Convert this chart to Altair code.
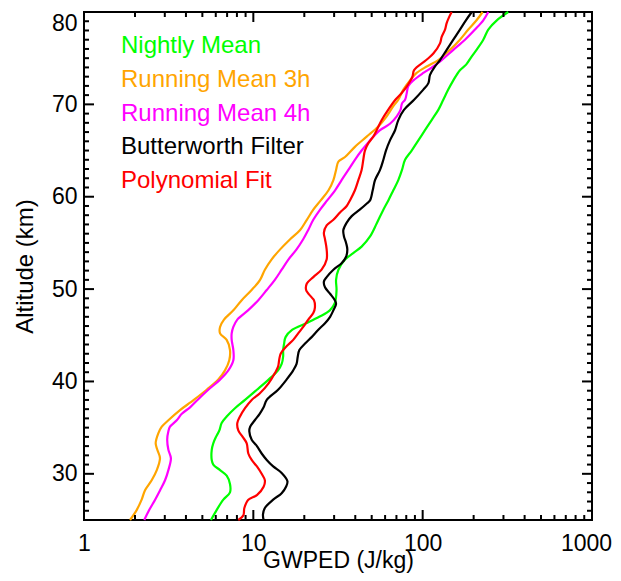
import altair as alt
import pandas as pd

# ---------------- data ----------------
series_names = ["Nightly Mean", "Running Mean 3h", "Running Mean 4h",
                "Butterworth Filter", "Polynomial Fit"]
series_colors = ["#00ff00", "#ffa500", "#ff00ff", "#000000", "#ff0000"]

nightly_alt = [25, 26.1, 27.2, 28.0, 28.9, 29.8, 30.4, 31.0, 31.5, 32.6, 33.3, 34.0, 34.7,
               35.5, 36.2, 37.1, 38.0, 39.1, 40.2, 41.2, 41.9, 42.7, 43.4, 44.1, 44.8,
               45.6, 46.3, 47.0, 47.7, 48.5, 49.9, 51.0, 52.1, 53.2, 53.9, 54.6, 55.7,
               57.1, 58.6, 59.6, 60.7, 61.8, 62.9, 64.0, 65.0, 66.1, 67.2, 68.3, 69.4,
               70.5, 71.6, 72.6, 73.7, 74.3, 75.2, 75.9, 77.0, 78.1, 79.1, 80]
nightly_val = [5.62, 6.08, 6.65, 7.28, 7.28, 6.96, 6.36, 5.80, 5.68, 5.68, 5.80, 6.02, 6.30,
               6.50, 6.96, 7.79, 8.93, 10.5, 12.3, 14.0, 14.7, 15.0, 15.0, 15.2, 15.5,
               17.0, 20.5, 24.5, 28.3, 30.3, 31.0, 30.8, 31.8, 34.8, 38.9, 43.6, 48.9,
               53.5, 58.6, 62.7, 67.1, 71.8, 75.5, 78.7, 86.1, 94.3, 103.2, 113, 123.7,
               132.4, 141.6, 151.7, 166, 180.6, 195, 208, 228, 244, 274, 320]

rm3_alt = [25, 26.1, 27.2, 28.2, 29.3, 30.4, 31.7, 32.6, 33.3, 34.4, 35.1, 35.8, 36.9, 37.7,
           38.0, 39.1, 40.2, 41.2, 42.3, 43.4, 44.5, 45.2, 45.9, 46.7, 47.7, 48.8, 49.9,
           51.0, 52.1, 53.2, 54.3, 55.4, 56.4, 57.5, 58.6, 59.6, 60.7, 61.8, 62.9, 63.8,
           64.3, 65.4, 66.5, 67.6, 68.7, 69.8, 70.5, 71.6, 72.6, 73.4, 74.1, 74.8, 75.9,
           77.0, 78.1, 79.1, 80]
rm3_val = [1.87, 2.05, 2.19, 2.29, 2.51, 2.69, 2.81, 2.71, 2.65, 2.75, 2.88, 3.15, 3.69, 4.23,
           4.45, 5.30, 6.21, 6.80, 7.21, 7.28, 6.96, 6.36, 6.36, 6.71, 7.62, 8.54, 9.77,
           10.96, 11.7, 12.8, 14.4, 16.5, 18.9, 20.7, 22.6, 25.0, 27.8, 29.7, 30.8, 31.8,
           34.8, 39.8, 46.7, 54.7, 61.3, 67.1, 71.8, 76.9, 84.2, 92.1, 105.6, 123.7, 144.9,
           166, 186, 208, 226]

rm4_alt = [25, 26.1, 27.2, 28.2, 29.3, 30.4, 31.7, 32.6, 33.7, 34.6, 35.1, 35.8, 36.5, 37.2,
           38.0, 39.1, 40.2, 41.2, 42.3, 43.4, 44.5, 45.2, 45.9, 46.7, 47.7, 48.8, 49.9,
           51.0, 52.1, 53.2, 54.3, 55.4, 56.4, 57.5, 58.6, 59.6, 60.7, 61.8, 62.9, 64.0,
           65.0, 66.1, 67.2, 67.9, 68.7, 69.4, 70.1, 70.5, 71.2, 72.0, 72.6, 73.4, 74.1,
           74.8, 75.9, 77.0, 78.1, 79.1, 80]
rm4_val = [2.27, 2.43, 2.63, 2.81, 3.01, 3.15, 3.26, 3.15, 3.10, 3.15, 3.22, 3.53, 3.78, 4.23,
           4.68, 5.42, 6.36, 7.12, 7.62, 7.62, 7.45, 7.45, 7.62, 8.04, 9.3, 10.7, 12.0,
           13.4, 14.7, 16.1, 18.0, 19.7, 21.1, 22.6, 24.8, 27.3, 30.4, 33.2, 36.4, 39.8,
           43.6, 48.9, 56.0, 64.1, 70.3, 74.0, 75.5, 78.7, 80.5, 82.3, 88.1, 100.9, 115.6,
           129.5, 151.7, 177.8, 203.7, 228, 244]

bw_alt = [25, 25.6, 26.3, 27.2, 27.9, 28.6, 29.2, 30.1, 30.8, 31.5, 32.2, 33.0, 33.7, 34.6,
          35.1, 35.8, 36.5, 37.2, 38.0, 39.1, 40.2, 41.2, 41.9, 42.7, 43.4, 44.1, 44.8,
          45.6, 46.3, 47.0, 47.7, 48.4, 48.8, 49.5, 50.2, 50.8, 51.3, 52.1, 52.8, 53.5,
          54.3, 55.0, 55.7, 56.4, 57.2, 57.9, 58.6, 59.3, 59.6, 60.7, 61.8, 62.9, 64.0,
          65.0, 66.1, 67.2, 68.3, 69.4, 70.5, 71.6, 72.3, 73.2, 74.1, 74.8, 75.9, 77.0,
          78.1, 79.1, 80]
bw_val = [11.5, 11.4, 11.7, 13.1, 14.7, 15.6, 15.9, 14.7, 13.1, 12.0, 11.2, 10.5, 9.78, 9.47,
          9.58, 10.2, 10.9, 11.5, 12.0, 14.0, 15.7, 17.2, 18.0, 18.3, 18.7, 20.2, 22.1,
          24.2, 26.5, 28.4, 29.7, 30.8, 30.3, 28.4, 26.5, 26.1, 27.1, 29.7, 33.2, 35.3,
          35.9, 35.3, 34.3, 34.0, 35.6, 38.1, 42.5, 47.0, 48.9, 50.7, 52.3, 56.0, 58.6,
          60.7, 64.1, 68.7, 71.8, 77.5, 89.0, 100.9, 108.1, 110.5, 118.3, 126.6, 138.6, 151.7,
          166, 180, 195]

poly_alt = [25, 25.5, 26.3, 27.2, 27.7, 28.6, 29.3, 30.0, 30.8, 31.5, 32.2, 33.3, 34.0, 34.7,
            35.5, 36.2, 37.1, 38.0, 38.7, 39.8, 40.9, 41.6, 42.3, 43.0, 43.8, 44.5, 45.2,
            45.9, 46.7, 47.4, 48.0, 48.8, 49.1, 49.9, 50.6, 51.3, 52.1, 53.2, 54.3, 55.4,
            56.1, 56.9, 57.5, 58.3, 59.0, 59.6, 60.7, 61.8, 62.9, 64.0, 65.0, 65.8, 66.5,
            67.2, 68.3, 69.4, 70.5, 71.2, 72.0, 73.0, 73.7, 74.8, 75.5, 76.6, 77.3, 78.1,
            78.8, 79.5, 80]
poly_val = [8.15, 8.73, 8.85, 9.34, 10.5, 11.5, 11.7, 11.2, 10.5, 9.78, 9.34, 9.14, 8.65, 8.15,
            8.04, 8.34, 8.93, 9.78, 10.9, 12.3, 13.4, 14.0, 14.2, 14.5, 15.7, 17.2, 18.4,
            19.7, 21.1, 22.6, 23.1, 22.8, 22.1, 20.5, 20.7, 22.6, 25.3, 27.1, 27.1, 26.5,
            26.1, 27.1, 29.7, 32.5, 35.6, 37.2, 39.8, 41.7, 43.6, 44.6, 45.6, 47.8, 51.1,
            53.5, 57.3, 62.5, 69.0, 75.0, 81.0, 87.0, 89.0, 105.0, 115.6, 126.6, 129.5, 135.5,
            138.6, 143.7, 148.4]

series_alts = [nightly_alt, rm3_alt, rm4_alt, bw_alt, poly_alt]
series_vals = [nightly_val, rm3_val, rm4_val, bw_val, poly_val]

x_major_ticks = [1, 10, 100, 1000]
x_minor_ticks = [2, 3, 4, 5, 6, 7, 8, 9, 20, 30, 40, 50, 60, 70, 80, 90,
                 200, 300, 400, 500, 600, 700, 800, 900]
y_major_ticks = [30, 40, 50, 60, 70, 80]
y_minor_ticks = [26, 27, 28, 29, 31, 32, 33, 34, 35, 36, 37, 38, 39, 41, 42, 43, 44, 45,
                 46, 47, 48, 49, 51, 52, 53, 54, 55, 56, 57, 58, 59, 61, 62, 63, 64, 65,
                 66, 67, 68, 69, 71, 72, 73, 74, 75, 76, 77, 78, 79]

# ---------------- chart ----------------
FONT = "Liberation Sans"
W = H = 508

xscale = alt.Scale(type="log", domain=[1, 1000], nice=False)
yscale = alt.Scale(domain=[25, 80], nice=False, zero=False)

xaxis = alt.Axis(values=x_major_ticks, format="d", ticks=False, domain=False, grid=False,
                 labelFont=FONT, labelFontSize=23, labelColor="black", labelPadding=12,
                 labelFlush=False, labelOverlap=False, labelBound=False,
                 labelOffset={"condition": {"test": "datum.value >= 1000", "value": -6},
                              "value": 0},
                 title="GWPED (J/kg)", titleFont=FONT, titleFontSize=23,
                 titleFontWeight="normal", titleColor="black",
                 titleX=W / 2, titleY=47, titleAlign="center", titleBaseline="alphabetic")
yaxis = alt.Axis(values=y_major_ticks, format="d", ticks=False, domain=False, grid=False,
                 labelFont=FONT, labelFontSize=23, labelColor="black", labelPadding=7,
                 labelFlush=True, labelOverlap=False,
                 title="Altitude (km)", titleFont=FONT, titleFontSize=24,
                 titleFontWeight="normal", titleColor="black", titleAngle=270,
                 titleX=-59, titleY=H / 2, titleAlign="center", titleBaseline="middle")

layers = []
for name, color, alts, vals in zip(series_names, series_colors, series_alts, series_vals):
    df = pd.DataFrame({"altitude": alts, "gwped": vals})
    layers.append(
        alt.Chart(df).mark_line(color=color, strokeWidth=2.2,
                                interpolate="catmull-rom").encode(
            x=alt.X("gwped:Q", scale=xscale, axis=xaxis),
            y=alt.Y("altitude:Q", scale=yscale, axis=yaxis),
            order=alt.Order("altitude:Q"),
        )
    )

# inward tick marks on all four sides (IDL style), drawn through the shared scales
xmaj = pd.DataFrame({"gwped": x_major_ticks})
xmin = pd.DataFrame({"gwped": x_minor_ticks})
ymaj = pd.DataFrame({"altitude": y_major_ticks})
ymin = pd.DataFrame({"altitude": y_minor_ticks})
tick_layers = []
for tdf, size in [(xmaj, 10), (xmin, 5)]:
    tick_layers.append(alt.Chart(tdf).mark_rule(color="black", strokeWidth=2).encode(
        x=alt.X("gwped:Q", scale=xscale), y=alt.value(H - size), y2=alt.value(H)))
    tick_layers.append(alt.Chart(tdf).mark_rule(color="black", strokeWidth=2).encode(
        x=alt.X("gwped:Q", scale=xscale), y=alt.value(0), y2=alt.value(size)))
for tdf, size in [(ymaj, 10), (ymin, 5)]:
    tick_layers.append(alt.Chart(tdf).mark_rule(color="black", strokeWidth=2).encode(
        y=alt.Y("altitude:Q", scale=yscale), x=alt.value(0), x2=alt.value(size)))
    tick_layers.append(alt.Chart(tdf).mark_rule(color="black", strokeWidth=2).encode(
        y=alt.Y("altitude:Q", scale=yscale), x=alt.value(W - size), x2=alt.value(W)))

legend_layers = []
for i, (name, color) in enumerate(zip(series_names, series_colors)):
    legend_layers.append(
        alt.Chart(pd.DataFrame({"label": [name]})).mark_text(
            align="left", baseline="alphabetic", font=FONT, fontSize=24, color=color
        ).encode(text="label:N", x=alt.value(37), y=alt.value(41.3 + 33.7 * i))
    )

chart = alt.layer(*layers, *tick_layers, *legend_layers).properties(
    width=W, height=H,
    autosize=alt.AutoSizeParams(type="none"),
    padding={"left": 76, "top": 4, "right": 21, "bottom": 53},
).configure_view(stroke="black", strokeWidth=2)

chart.save("out.html", embed_options={"renderer": "svg", "actions": False})
